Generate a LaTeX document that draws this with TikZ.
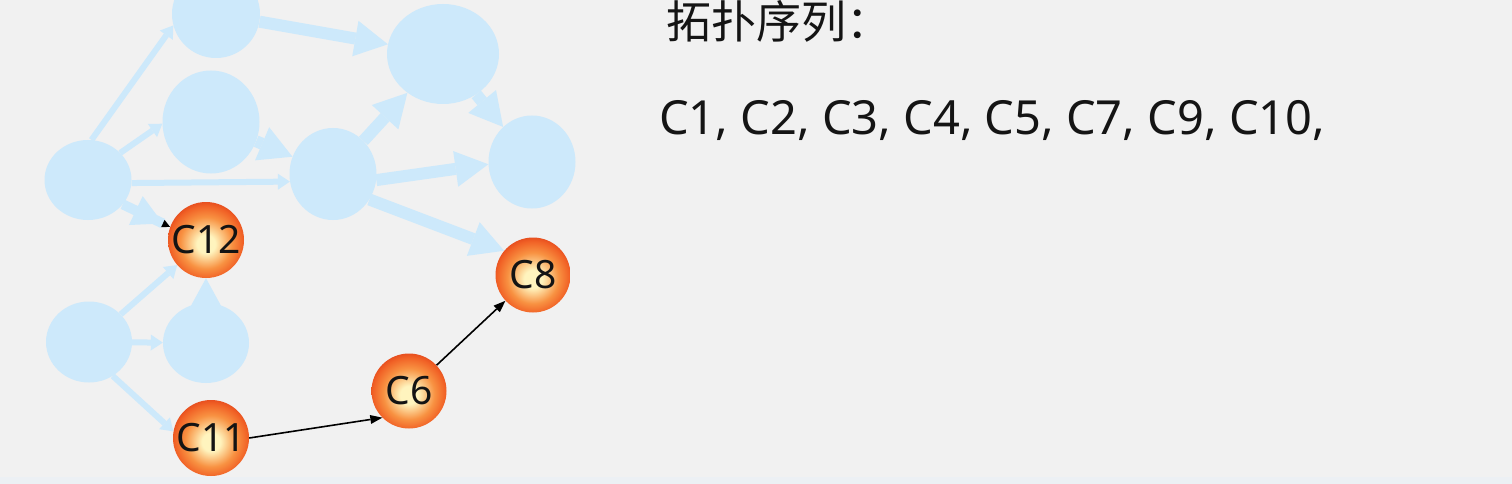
\documentclass[tikz,border=0pt]{standalone}
\usepackage{fontspec}
\setmainfont{Noto Sans}
\newfontfamily\cjk{Noto Sans CJK SC}
\usetikzlibrary{arrows.meta,shapes.geometric,backgrounds}
\definecolor{bggray}{RGB}{241,241,241}
\definecolor{stripe}{RGB}{236,240,244}
\definecolor{lblue}{RGB}{205,233,251}
\definecolor{ink}{RGB}{20,20,20}
\definecolor{ballin}{RGB}{255,244,190}
\definecolor{ballmid}{RGB}{248,146,66}
\definecolor{ballout}{RGB}{241,98,38}
\definecolor{ballrim}{RGB}{226,68,26}
\pgfdeclareradialshading{ballshade}{\pgfpoint{0bp}{-3bp}}{color(0bp)=(ballin); color(6bp)=(ballin); color(17bp)=(ballmid); color(24bp)=(ballout); color(28bp)=(ballrim); color(50bp)=(ballrim)}
\begin{document}
\begin{tikzpicture}[x=1pt, y=-1pt, text=ink,
    gone/.style={ellipse, fill=lblue, inner sep=0pt},
    ball/.style={circle, shading=ballshade, minimum size=76pt, inner sep=0pt, font=\fontsize{39}{40}\selectfont},
    slim/.style={lblue, line width=6pt, -{Triangle[length=12pt,width=16pt,line width=0pt]}},
    fat/.style={lblue, line width=12pt, -{Triangle[length=33pt,width=36pt,line width=0pt]}},
    done/.style={black, line width=1.6pt, -{Triangle[length=12pt,width=9pt,line width=0pt]}}]
    \useasboundingbox (0,0) rectangle (1512,484);
    % courses already output
    \node[gone, minimum width=88pt, minimum height=88pt] (c4) at (216,14) {};
    \node[gone, minimum width=97pt, minimum height=103pt] (c2) at (211,122) {};
    \node[gone, minimum width=87pt, minimum height=80pt] (c1) at (88,180) {};
    \node[gone, minimum width=112pt, minimum height=100pt] (c5) at (443,54) {};
    \node[gone, minimum width=87pt, minimum height=92pt] (c3) at (333,174) {};
    \node[gone, minimum width=87pt, minimum height=93pt] (c7) at (532,162) {};
    \node[gone, minimum width=86pt, minimum height=81pt] (c9) at (89,342) {};
    \node[gone, minimum width=86pt, minimum height=80pt] (c10) at (206,343) {};
    % courses left
    \node[ball] (c12) at (206,240) {C12};
    \node[ball] (c11) at (211,438) {C11};
    \node[ball, minimum size=75pt] (c6) at (409,391) {C6};
    \node[ball, minimum size=75pt] (c8) at (533,275) {C8};
    \begin{scope}[on background layer]
        \fill[bggray] (0,0) rectangle (1512,484);
        \fill[stripe] (0,477) rectangle (1512,484);
        \foreach \a/\b in {c1.85/c4.195, c1.40/c2.182, c1.-4/c3.190, c9/c12, c9/c10, c9.-55/c11.170}
            \draw[slim] (\a) -- (\b);
        \foreach \a/\b in {c4/c5, c2/c3, c3/c5, c3.-8/c7.183, c3.-35/c8.140, c5/c7, c10/c12}
            \draw[fat] (\a) -- (\b);
        \draw[fat, line width=10pt, -{Triangle[length=30pt,width=32pt,line width=0pt] Triangle[color=black,length=8pt,width=8pt,line width=0pt]}] (c1.-35) -- (c12.160);
    \end{scope}
    \draw[done] (c11.east) -- (c6.225);
    \draw[done] (c6) -- (c8);
    \node[anchor=base west, inner sep=0pt, font=\cjk\fontsize{45}{50}\selectfont] (title) at (666,39) {拓扑序列：};
    \node[anchor=base west, inner sep=0pt, font=\fontsize{47}{56}\selectfont] (order) at (659,135) {C1, C2, C3, C4, C5, C7, C9, C10,};
\end{tikzpicture}
\end{document}
